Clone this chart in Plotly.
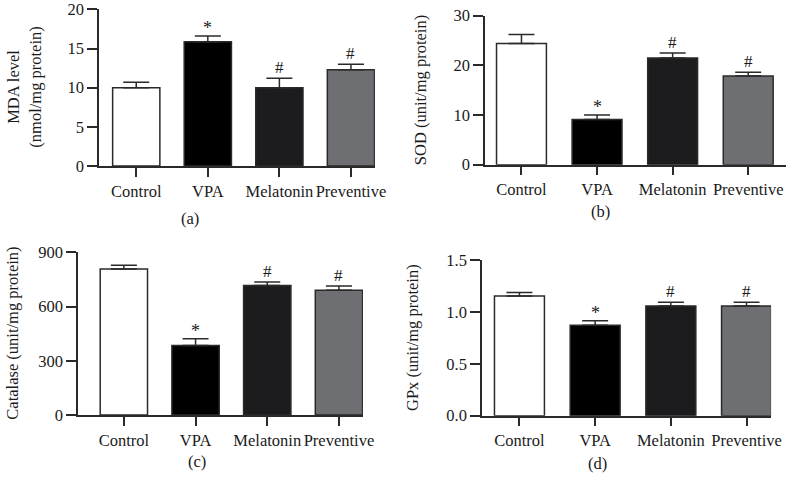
import plotly.graph_objects as go

categories = ["Control", "VPA", "Melatonin", "Preventive"]

mda_values = [10.0, 15.85, 10.0, 12.3]
mda_errors = [0.7, 0.75, 1.2, 0.7]
mda_marks = ["", "*", "#", "#"]

sod_values = [24.4, 9.1, 21.5, 17.85]
sod_errors = [1.8, 0.9, 1.0, 0.75]
sod_marks = ["", "*", "#", "#"]

cat_values = [808, 384, 716, 690]
cat_errors = [20, 38, 20, 24]
cat_marks = ["", "*", "#", "#"]

gpx_values = [1.156, 0.872, 1.059, 1.059]
gpx_errors = [0.032, 0.045, 0.035, 0.035]
gpx_marks = ["", "*", "#", "#"]

bar_colors = ["#ffffff", "#000000", "#1c1c1e", "#6e6f72"]
FONT = "Liberation Serif"
LINE = "#2a2a2a"
FS = 16.5

panels = [
    dict(vals=mda_values, errs=mda_errors, marks=mda_marks, xd=[0.126, 0.477], yd=[0.6534, 0.9805],
         xr=[-0.52, 3.335], yr=[0, 20], tickvals=[0, 5, 10, 15, 20], fmt="", cap="(a)", capxy=(190, 218),
         title="MDA level<br>(nmol/mg protein)", titlex=24),
    dict(vals=sod_values, errs=sod_errors, marks=sod_marks, xd=[0.617, 1.0], yd=[0.6562, 0.9672],
         xr=[-0.483, 3.5], yr=[0, 30], tickvals=[0, 10, 20, 30], fmt="", cap="(b)", capxy=(600, 211),
         title="SOD (unit/mg protein)", titlex=420),
    dict(vals=cat_values, errs=cat_errors, marks=cat_marks, xd=[0.0992, 0.4618], yd=[0.1336, 0.4733],
         xr=[-0.64, 3.335], yr=[0, 900], tickvals=[0, 300, 600, 900], fmt="", cap="(c)", capxy=(197, 461),
         title="Catalase (unit/mg protein)", titlex=13),
    dict(vals=gpx_values, errs=gpx_errors, marks=gpx_marks, xd=[0.6132, 0.981], yd=[0.1322, 0.4566],
         xr=[-0.495, 3.324], yr=[0, 1.5], tickvals=[0, 0.5, 1.0, 1.5], fmt=".1f", cap="(d)", capxy=(597, 463),
         title="GPx (unit/mg protein)", titlex=413),
]

W, H = 786, 479
fig = go.Figure()
annotations = []
layout = {}
for i, p in enumerate(panels):
    n = "" if i == 0 else str(i + 1)
    xs = list(range(len(categories)))
    fig.add_trace(go.Bar(
        x=xs, y=p["vals"], width=0.66,
        marker=dict(color=bar_colors, line=dict(color=LINE, width=1.5)),
        error_y=dict(type="data", symmetric=False, array=p["errs"], arrayminus=[0] * 4,
                     color=LINE, thickness=1.5, width=13),
        xaxis="x" + n, yaxis="y" + n, showlegend=False, hoverinfo="skip",
    ))
    layout["xaxis" + n] = dict(
        domain=p["xd"], anchor="y" + n, range=p["xr"], tickmode="array", tickvals=xs, ticktext=categories,
        showline=True, linecolor=LINE, linewidth=1.5, ticks="outside", ticklen=9, tickwidth=1.5,
        tickcolor=LINE, showgrid=False, zeroline=False, fixedrange=True, automargin=False,
        tickangle=0, ticklabeloverflow="allow",
        tickfont=dict(family=FONT, size=FS, color="#1a1a1a"),
    )
    layout["yaxis" + n] = dict(
        domain=p["yd"], anchor="x" + n, range=p["yr"], tickmode="array", tickvals=p["tickvals"],
        tickformat=p["fmt"], showline=True, linecolor=LINE, linewidth=1.5, ticks="outside", ticklen=10,
        tickwidth=1.5, tickcolor=LINE, showgrid=False, zeroline=False, fixedrange=True, automargin=False,
        ticklabeloverflow="allow",
        tickfont=dict(family=FONT, size=FS, color="#1a1a1a"),
    )
    for j, m in enumerate(p["marks"]):
        if m:
            annotations.append(dict(
                x=j, y=p["vals"][j] + p["errs"][j], xref="x" + n, yref="y" + n, text=m, showarrow=False,
                yanchor="bottom", yshift=-1 if m == "#" else -4,
                font=dict(family=FONT, size=17 if m == "#" else 18, color="#1a1a1a"),
            ))
    cx, cy = p["capxy"]
    annotations.append(dict(x=cx / W, y=1 - cy / H, xref="paper", yref="paper", text=p["cap"],
                            showarrow=False, xanchor="center", yanchor="middle",
                            font=dict(family=FONT, size=FS, color="#1a1a1a")))
    yc = (p["yd"][0] + p["yd"][1]) / 2
    annotations.append(dict(x=p["titlex"] / W, y=yc, xref="paper", yref="paper", text=p["title"],
                            showarrow=False, textangle=-90, xanchor="center", yanchor="middle",
                            font=dict(family=FONT, size=FS, color="#1a1a1a")))

fig.update_layout(
    width=W, height=H, margin=dict(l=0, r=0, t=0, b=0),
    paper_bgcolor="white", plot_bgcolor="white", bargap=0.3,
    annotations=annotations, **layout,
)
fig.write_html("out.html", config={"displayModeBar": False},
               post_script="document.body.style.margin='0';document.body.style.overflow='hidden';")
